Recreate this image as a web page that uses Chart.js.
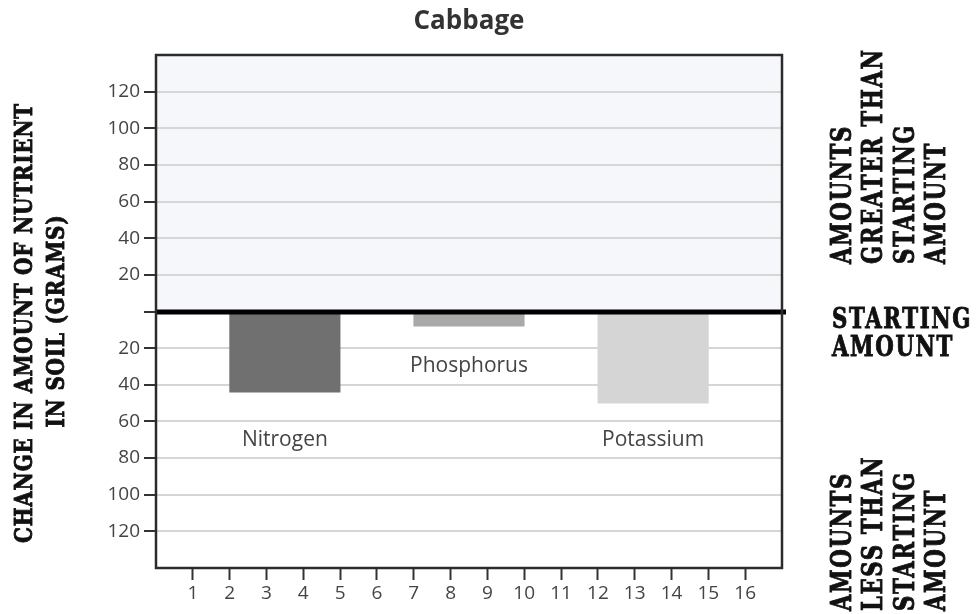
<!DOCTYPE html>
<html>
<head>
<meta charset="utf-8">
<script src="https://cdn.jsdelivr.net/npm/chart.js@4.4.1/dist/chart.umd.min.js"></script>
<style>
  html, body { margin: 0; padding: 0; background: #fff; }
  canvas { display: block; }
</style>
</head>
<body>
<canvas id="chartCabbage" width="977" height="614"></canvas>
<script>
// datos
const nutrientes = ['Nitrogen', 'Phosphorus', 'Potassium'];
const posicionX = [3.5, 8.5, 13.5];      // centro de cada barra en la escala 0..17
const cambio = [-44, -8, -50];           // gramos respecto al valor inicial
const ticksX = [1, 2, 3, 4, 5, 6, 7, 8, 9, 10, 11, 12, 13, 14, 15, 16];
const ticksY = [-120, -100, -80, -60, -40, -20, 0, 20, 40, 60, 80, 100, 120];

const coloresBarras = ['#707070', '#a9a9a9', '#d5d5d5'];
const etiquetaY = [-70, -30, -70];       // altura del nombre de cada nutriente

// dibuja texto escalado en horizontal (tipo letra condensada) y reforzado
function textoEscalado(ctx, txt, x, y, ang, k, align) {
    ctx.save();
    ctx.translate(x, y);
    ctx.rotate(ang);
    ctx.scale(k, 1);
    ctx.textAlign = align;
    ctx.textBaseline = 'alphabetic';
    ctx.fillText(txt, 0, 0);
    ctx.strokeText(txt, 0, 0);
    ctx.restore();
}

const fondoSuperior = {
    id: 'fondoSuperior',
    beforeDraw(chart) {
        const { ctx, chartArea: a, scales } = chart;
        const y0 = scales.y.getPixelForValue(0);
        ctx.save();
        ctx.fillStyle = '#f5f7fa';
        ctx.fillRect(a.left, a.top, a.right - a.left, y0 - a.top);
        ctx.restore();
    },
    afterDatasetsDraw(chart) {
        const { ctx, chartArea: a, scales } = chart;
        const y0 = Math.round(scales.y.getPixelForValue(0));
        ctx.save();
        // linea del valor inicial
        ctx.strokeStyle = '#000';
        ctx.lineWidth = 5;
        ctx.beginPath();
        ctx.moveTo(a.left, y0);
        ctx.lineTo(a.right + 4, y0);
        ctx.stroke();
        // nombres de los nutrientes
        ctx.fillStyle = '#444';
        ctx.font = '21px "Open Sans"';
        ctx.textAlign = 'center';
        ctx.textBaseline = 'middle';
        nutrientes.forEach((n, i) => {
            ctx.fillText(n, scales.x.getPixelForValue(posicionX[i]), scales.y.getPixelForValue(etiquetaY[i]));
        });
        ctx.restore();
    },
    afterDraw(chart) {
        const { ctx, chartArea: a } = chart;
        ctx.save();
        // marco
        ctx.strokeStyle = '#2b2b2b';
        ctx.lineWidth = 2.5;
        ctx.strokeRect(a.left, a.top, a.right - a.left, a.bottom - a.top);

        // titulo
        ctx.fillStyle = '#333';
        ctx.font = 'bold 26px "Open Sans"';
        ctx.textAlign = 'center';
        ctx.textBaseline = 'alphabetic';
        ctx.fillText('Cabbage', (a.left + a.right) / 2, 29);

        // textos en negrita con serifa, espaciados
        ctx.fillStyle = '#111';
        ctx.strokeStyle = '#111';
        ctx.lineWidth = 0.9;
        ctx.font = 'bold 27px "DejaVu Serif"';
        ctx.letterSpacing = '2px';
        const k = 140 / ctx.measureText('STARTING').width;
        const up = -Math.PI / 2;

        textoEscalado(ctx, 'AMOUNTS', 851, 264, up, k, 'left');
        textoEscalado(ctx, 'GREATER THAN', 882, 264, up, k, 'left');
        textoEscalado(ctx, 'STARTING', 914, 264, up, k, 'left');
        textoEscalado(ctx, 'AMOUNT', 945, 264, up, k, 'left');

        textoEscalado(ctx, 'STARTING', 832, 328, 0, k, 'left');
        textoEscalado(ctx, 'AMOUNT', 832, 356, 0, k, 'left');

        textoEscalado(ctx, 'AMOUNTS', 851, 611, up, k, 'left');
        textoEscalado(ctx, 'LESS THAN', 882, 611, up, k, 'left');
        textoEscalado(ctx, 'STARTING', 914, 611, up, k, 'left');
        textoEscalado(ctx, 'AMOUNT', 945, 611, up, k, 'left');

        // titulo del eje Y
        ctx.font = 'bold 25px "DejaVu Serif"';
        ctx.letterSpacing = '1px';
        const k2 = 440 / ctx.measureText('CHANGE IN AMOUNT OF NUTRIENT').width;
        textoEscalado(ctx, 'CHANGE IN AMOUNT OF NUTRIENT', 32, 323, up, k2, 'center');
        textoEscalado(ctx, 'IN SOIL (GRAMS)', 64, 321, up, k2, 'center');
        ctx.restore();
    }
};

const ctx = document.getElementById('chartCabbage').getContext('2d');
new Chart(ctx, {
    type: 'bar',
    data: {
        datasets: [{
            label: 'Cabbage',
            data: posicionX.map((x, i) => ({ x: x, y: cambio[i] })),
            backgroundColor: coloresBarras,
            borderWidth: 0,
            barThickness: 'flex',
            categoryPercentage: 1,
            barPercentage: 0.6
        }]
    },
    options: {
        responsive: false,
        animation: false,
        devicePixelRatio: 1,
        layout: { padding: { top: 55, right: 195, left: 0, bottom: 0 } },
        plugins: {
            legend: { display: false },
            title: { display: false },
            tooltip: { enabled: false }
        },
        scales: {
            x: {
                type: 'linear',
                min: 0,
                max: 17,
                offset: false,
                afterBuildTicks: s => { s.ticks = ticksX.map(v => ({ value: v })); },
                afterFit: s => { s.height = 46; },
                grid: { offset: false, drawOnChartArea: false, drawTicks: true, tickLength: 12, tickColor: '#333', tickWidth: 2 },
                border: { display: false },
                ticks: {
                    autoSkip: false,
                    maxRotation: 0,
                    padding: 2,
                    color: '#444',
                    font: { family: 'Open Sans', size: 19 }
                }
            },
            y: {
                min: -140,
                max: 140,
                afterBuildTicks: s => { s.ticks = ticksY.map(v => ({ value: v })); },
                afterFit: s => { s.width = 156; },
                grid: { color: '#d6d6d6', lineWidth: 2, tickLength: 12, tickColor: '#333', tickWidth: 2 },
                border: { display: false },
                ticks: {
                    padding: 4,
                    color: '#444',
                    font: { family: 'Open Sans', size: 19 },
                    callback: v => v === 0 ? '' : Math.abs(v)
                }
            }
        }
    },
    plugins: [fondoSuperior]
});
</script>
</body>
</html>
